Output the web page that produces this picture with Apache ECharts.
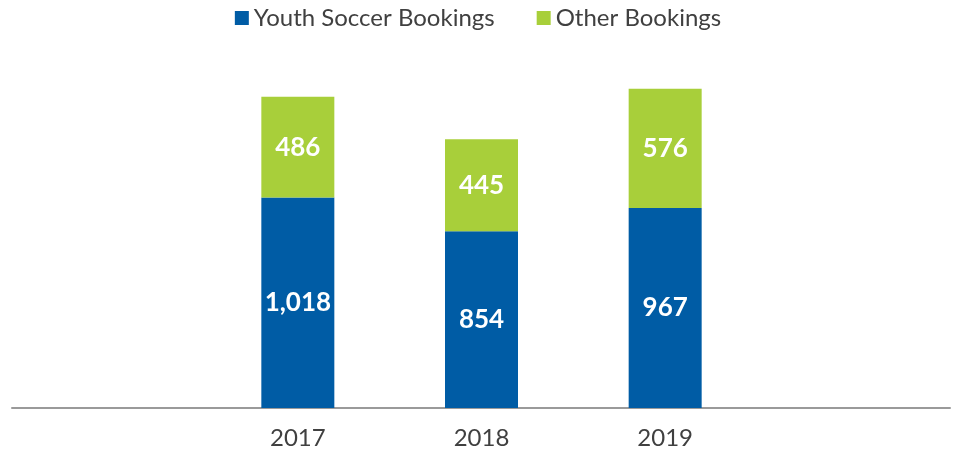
<!DOCTYPE html>
<html>
<head>
<meta charset="utf-8">
<script src="https://cdn.jsdelivr.net/npm/echarts@6/dist/echarts.min.js"></script>
<style>
  html, body { margin: 0; padding: 0; background: #fff; }
  #chart { width: 956px; height: 456px; }
</style>
</head>
<body>
<div id="chart"></div>
<script>
// data
var years = ['2017', '2018', '2019'];
var youthSoccer = [1018, 854, 967];
var otherBookings = [486, 445, 576];

var blue = '#005CA5';
var green = '#A8CF3A';
var font = 'Lato, "Noto Sans", sans-serif';

var chart = echarts.init(document.getElementById('chart'));

function barLabel() {
  return {
    show: true,
    position: 'inside',
    color: '#fff',
    fontFamily: font,
    fontWeight: 'bold',
    fontSize: 26,
    formatter: function (p) { return p.value.toLocaleString('en-US'); }
  };
}

chart.setOption({
  animation: false,
  legend: {
    top: 1,
    left: 'center',
    itemWidth: 14,
    itemHeight: 14,
    itemGap: 42,
    icon: 'rect',
    textStyle: { fontFamily: font, fontSize: 24, color: '#404040' },
    data: ['Youth Soccer Bookings', 'Other Bookings']
  },
  grid: [
    { left: 206, right: 199, top: 77, bottom: 48 },
    // wider grid only used for the long baseline
    { left: 12, right: 6, top: 77, bottom: 48 }
  ],
  xAxis: [
    {
      type: 'category',
      gridIndex: 0,
      data: years,
      axisLine: { show: false },
      axisTick: { show: false },
      axisLabel: { fontFamily: font, fontSize: 24, color: '#404040', margin: 18 }
    },
    {
      type: 'category',
      gridIndex: 1,
      data: [''],
      axisLine: { show: true, lineStyle: { color: '#9a9a9a', width: 2 } },
      axisTick: { show: false },
      axisLabel: { show: false }
    }
  ],
  yAxis: [
    { type: 'value', gridIndex: 0, min: 0, max: 1600, show: false, splitLine: { show: false } },
    { type: 'value', gridIndex: 1, min: 0, max: 1600, show: false, splitLine: { show: false } }
  ],
  series: [
    {
      name: 'Youth Soccer Bookings',
      type: 'bar',
      stack: 'total',
      barWidth: 73,
      itemStyle: { color: blue },
      label: barLabel(),
      data: youthSoccer
    },
    {
      name: 'Other Bookings',
      type: 'bar',
      stack: 'total',
      barWidth: 73,
      itemStyle: { color: green },
      label: barLabel(),
      data: otherBookings
    }
  ]
});
</script>
</body>
</html>
